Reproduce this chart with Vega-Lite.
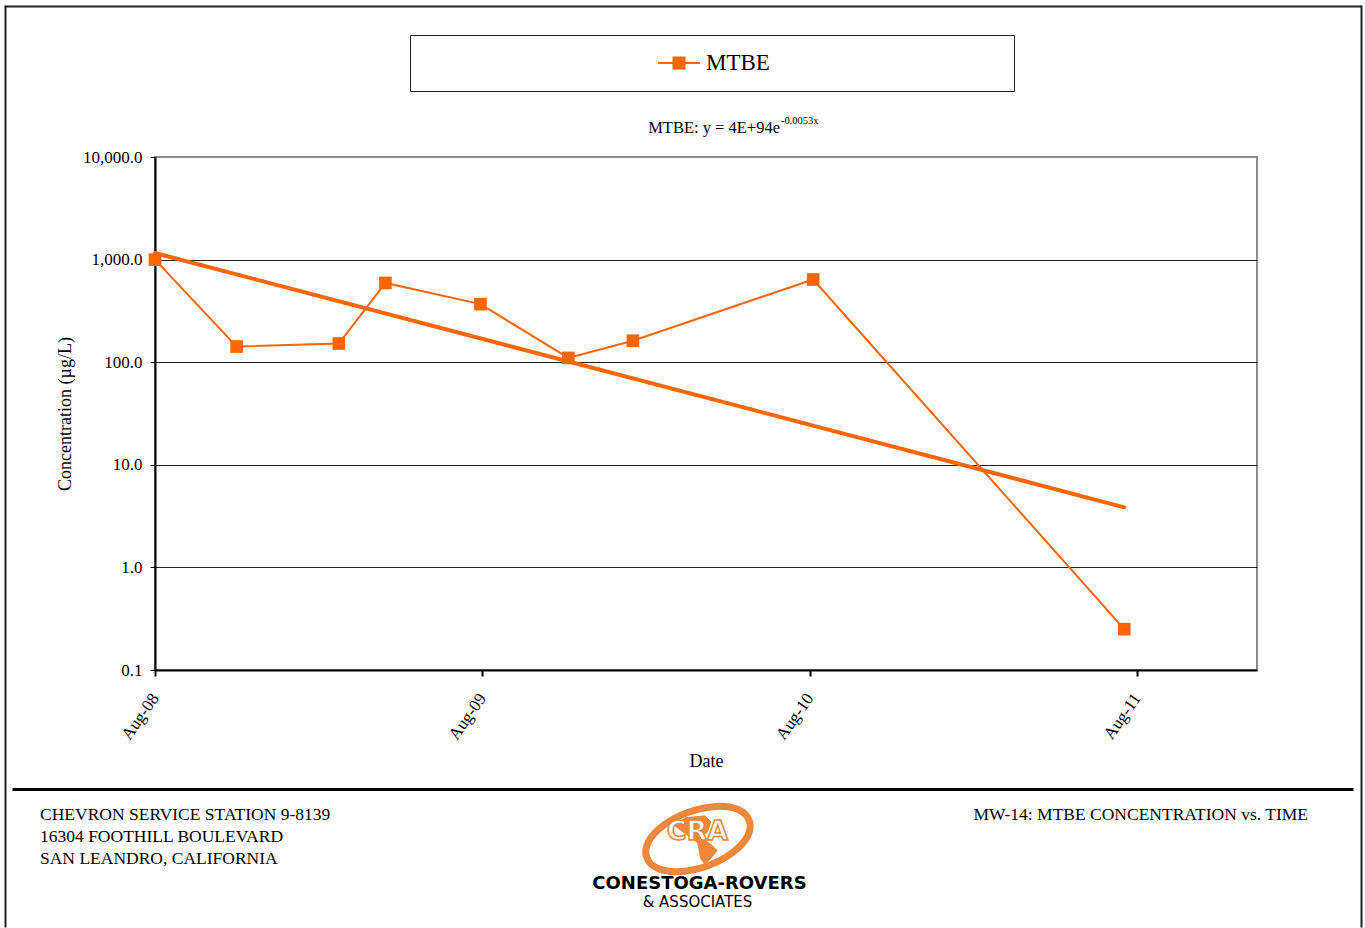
{
  "$schema": "https://vega.github.io/schema/vega-lite/v6.json",
  "background": "white",
  "padding": {"left": 5, "top": 5, "right": 4, "bottom": 0},
  "spacing": 17,
  "config": {
    "font": "Liberation Serif",
    "view": {"stroke": null},
    "axis": {"labelFont": "Liberation Serif", "titleFont": "Liberation Serif", "labelColor": "#000", "titleColor": "#000", "titleFontWeight": "normal"},
    "legend": {"labelFont": "Liberation Serif"}
  },
  "datasets": {
    "mtbe": [
      {"date": "2008-08-01", "value": 1000, "series": "MTBE"},
      {"date": "2008-10-31", "value": 142, "series": "MTBE"},
      {"date": "2009-02-22", "value": 152, "series": "MTBE"},
      {"date": "2009-04-15", "value": 592, "series": "MTBE"},
      {"date": "2009-07-30", "value": 368, "series": "MTBE"},
      {"date": "2009-11-05", "value": 110, "series": "MTBE"},
      {"date": "2010-01-16", "value": 162, "series": "MTBE"},
      {"date": "2010-08-05", "value": 640, "series": "MTBE"},
      {"date": "2011-07-18", "value": 0.25, "series": "MTBE"}
    ],
    "trend": [
      {"date": "2008-08-01", "value": 1160},
      {"date": "2011-07-18", "value": 3.85}
    ],
    "equation": [
      {"part": "main", "text": "MTBE: y = 4E+94e"},
      {"part": "sup", "text": "-0.0053x"}
    ],
    "footer": [
      {"block": "address", "row": "r1", "part": "address", "text": "CHEVRON SERVICE STATION 9-8139"},
      {"block": "address", "row": "r2", "part": "address", "text": "16304 FOOTHILL BOULEVARD"},
      {"block": "address", "row": "r3", "part": "address", "text": "SAN LEANDRO, CALIFORNIA"},
      {"block": "caption", "row": "r1", "part": "caption", "text": "MW-14: MTBE CONCENTRATION vs. TIME"},
      {"block": "logo", "row": "r2", "part": "ring", "text": ""},
      {"block": "logo", "row": "r2", "part": "globe", "text": ""},
      {"block": "logo", "row": "r2", "part": "cra", "text": "CRA"},
      {"block": "logo", "row": "r4", "part": "company", "text": "CONESTOGA-ROVERS"},
      {"block": "logo", "row": "r5", "part": "assoc", "text": "& ASSOCIATES"}
    ]
  },
  "vconcat": [
    {
      "width": 1102,
      "height": 513,
      "view": {"stroke": "#8c8c8c", "strokeWidth": 2},
      "resolve": {"scale": {"x": "independent"}, "axis": {"x": "independent"}},
      "layer": [
        {
          "layer": [
            {
              "data": {"name": "mtbe"},
              "mark": {"type": "line", "strokeWidth": 2},
              "encoding": {
                "x": {
                  "field": "date", "type": "temporal", "title": "Date",
                  "scale": {"type": "utc", "domain": [{"year": 2008, "month": 8, "date": 1, "utc": true}, {"year": 2011, "month": 12, "date": 13, "utc": true}]},
                  "axis": {
                    "orient": "bottom",
                    "values": [
                      {"year": 2008, "month": 8, "date": 1, "utc": true},
                      {"year": 2009, "month": 8, "date": 1, "utc": true},
                      {"year": 2010, "month": 8, "date": 1, "utc": true},
                      {"year": 2011, "month": 8, "date": 1, "utc": true}
                    ],
                    "format": "%b-%y", "labelAngle": -55, "labelAlign": "right", "labelBaseline": "middle",
                    "labelPadding": 19, "labelFontSize": 17, "tickSize": 6, "tickColor": "#000", "tickWidth": 2,
                    "domainColor": "#000", "domainWidth": 2, "grid": false, "titleFontSize": 18, "titlePadding": 10
                  }
                },
                "y": {
                  "field": "value", "type": "quantitative", "title": "Concentration (µg/L)",
                  "scale": {"type": "log", "domain": [0.1, 10000]},
                  "axis": {
                    "values": [0.1, 1, 10, 100, 1000, 10000], "format": ",.1f", "grid": true,
                    "gridColor": {"condition": {"test": "datum.value >= 10000", "value": "#8c8c8c"}, "value": "#222222"},
                    "domainColor": "#000", "domainWidth": 2, "tickSize": 5, "tickColor": "#000",
                    "labelPadding": 8, "labelFontSize": 17, "titleFontSize": 18, "titlePadding": 8
                  }
                },
                "color": {
                  "field": "series", "type": "nominal",
                  "scale": {"domain": ["MTBE"], "range": ["#FF6600"]},
                  "legend": {
                    "orient": "none", "legendX": 255, "legendY": -122,
                    "title": "\u00a0", "titleOrient": "right", "titlePadding": 237, "titleFontSize": 11,
                    "strokeColor": "#222", "padding": 7, "fillColor": "white",
                    "symbolType": "M-1,-0.048L1,-0.048L1,0.048L-1,0.048Z M-0.31,-0.31L0.31,-0.31L0.31,0.31L-0.31,0.31Z M0,-1L0.001,-1L0.001,-0.999Z M0,1L0.001,1L0.001,0.999Z",
                    "symbolSize": 1764, "symbolFillColor": "#FF6600", "symbolStrokeWidth": 0,
                    "symbolOffset": 241, "labelOffset": 6,
                    "labelFontSize": 23, "labelColor": "#000"
                  }
                }
              }
            },
            {
              "data": {"name": "trend"},
              "mark": {"type": "line", "color": "#FF6600", "strokeWidth": 4, "strokeCap": "round"},
              "encoding": {
                "x": {"field": "date", "type": "temporal"},
                "y": {"field": "value", "type": "quantitative"}
              }
            },
            {
              "data": {"name": "mtbe"},
              "mark": {"type": "point", "shape": "square", "filled": true, "size": 160, "opacity": 1},
              "encoding": {
                "x": {"field": "date", "type": "temporal"},
                "y": {"field": "value", "type": "quantitative"},
                "color": {"field": "series", "type": "nominal"}
              }
            },
            {
              "data": {"name": "equation"},
              "transform": [{"filter": "datum.part == 'main'"}],
              "mark": {"type": "text", "align": "right", "baseline": "middle", "fontSize": 16.5, "color": "#000", "dx": 74, "dy": -285.5},
              "encoding": {"text": {"field": "text", "type": "nominal"}}
            },
            {
              "data": {"name": "equation"},
              "transform": [{"filter": "datum.part == 'sup'"}],
              "mark": {"type": "text", "align": "left", "baseline": "middle", "fontSize": 10.5, "color": "#000", "dx": 75, "dy": -293},
              "encoding": {"text": {"field": "text", "type": "nominal"}}
            }
          ]
        },
        {
          "data": {"values": []},
          "mark": {"type": "point", "opacity": 0},
          "encoding": {
            "x": {
              "field": "edge", "type": "quantitative",
              "scale": {"domain": [0, 1], "range": [-150, 1206], "nice": false, "zero": false},
              "axis": {"orient": "top", "offset": 151, "minExtent": 0, "ticks": false, "labels": false, "grid": false, "title": null, "domain": true, "domainColor": "#222", "domainWidth": 2}
            }
          }
        }
      ]
    },
    {
      "width": 1102,
      "height": 120,
      "view": {"stroke": null},
      "resolve": {"scale": {"y": "independent"}, "axis": {"y": "independent"}},
      "layer": [
        {
          "data": {"name": "footer"},
          "encoding": {
            "x": {
              "field": "block", "type": "nominal",
              "scale": {"type": "point", "domain": ["address", "logo", "caption"], "range": [-143, 1198], "padding": 0},
              "axis": {"orient": "top", "domainColor": "#000", "domainWidth": 3, "ticks": false, "labels": false, "title": null, "grid": false}
            },
            "y": {
              "field": "row", "type": "nominal",
              "scale": {"type": "point", "domain": ["r1", "r2", "r3", "r4", "r5"], "range": [26, 114], "padding": 0},
              "axis": null
            }
          },
          "layer": [
            {
              "transform": [{"filter": "datum.part == 'address'"}],
              "mark": {"type": "text", "align": "left", "baseline": "middle", "dx": 28, "fontSize": 17.5, "color": "#000"},
              "encoding": {"text": {"field": "text"}}
            },
            {
              "transform": [{"filter": "datum.part == 'caption'"}],
              "mark": {"type": "text", "align": "right", "baseline": "middle", "dx": -45, "fontSize": 17.5, "color": "#000"},
              "encoding": {"text": {"field": "text"}}
            },
            {
              "transform": [{"filter": "datum.part == 'globe'"}],
              "mark": {
                "type": "point", "filled": true, "opacity": 1,
                "shape": "M-0.24,-0.3L0.08,-0.5L0.56,-0.54L0.72,-0.38L0.64,-0.14L0.48,0.02L0.72,0.18L0.88,0.34L0.72,0.54L0.56,0.7L0.44,0.54L0.4,0.3L0.36,0.14Z",
                "size": 6400, "fill": "#F0873A", "strokeWidth": 0
              }
            },
            {
              "transform": [{"filter": "datum.part == 'ring'"}],
              "mark": {
                "type": "point", "filled": false, "opacity": 1,
                "shape": "M1.332,-0.332A1.088,0.554,-20,1,1,-0.712,0.412A1.088,0.554,-20,1,1,1.332,-0.332Z",
                "size": 10000, "stroke": "#F0873A", "strokeWidth": 7
              }
            },
            {
              "transform": [{"filter": "datum.part == 'cra'"}],
              "mark": {"type": "text", "align": "center", "baseline": "middle", "dx": 15, "dy": -5, "font": "DejaVu Sans", "fontWeight": "bold", "fontSize": 27, "fill": "#ffffff", "stroke": "#F0873A", "strokeWidth": 1.5},
              "encoding": {"text": {"field": "text"}}
            },
            {
              "transform": [{"filter": "datum.part == 'company'"}],
              "mark": {"type": "text", "align": "center", "baseline": "middle", "dx": 17, "dy": 3, "font": "DejaVu Sans", "fontWeight": "bold", "fontSize": 18, "color": "#000"},
              "encoding": {"text": {"field": "text"}}
            },
            {
              "transform": [{"filter": "datum.part == 'assoc'"}],
              "mark": {"type": "text", "align": "center", "baseline": "middle", "dx": 15, "dy": -1, "font": "DejaVu Sans", "fontSize": 15, "color": "#000"},
              "encoding": {"text": {"field": "text"}}
            }
          ]
        },
        {
          "data": {"values": []},
          "mark": {"type": "point", "opacity": 0},
          "encoding": {
            "y": {
              "field": "edge", "type": "quantitative",
              "scale": {"domain": [0, 1], "range": [138, -784], "nice": false, "zero": false},
              "axis": {"orient": "left", "offset": 150, "minExtent": 0, "ticks": false, "labels": false, "grid": false, "title": null, "domain": true, "domainColor": "#222", "domainWidth": 2}
            }
          }
        },
        {
          "data": {"values": []},
          "mark": {"type": "point", "opacity": 0},
          "encoding": {
            "y": {
              "field": "edge", "type": "quantitative",
              "scale": {"domain": [0, 1], "range": [138, -784], "nice": false, "zero": false},
              "axis": {"orient": "right", "offset": 104, "minExtent": 0, "ticks": false, "labels": false, "grid": false, "title": null, "domain": true, "domainColor": "#222", "domainWidth": 2}
            }
          }
        }
      ]
    }
  ]
}
